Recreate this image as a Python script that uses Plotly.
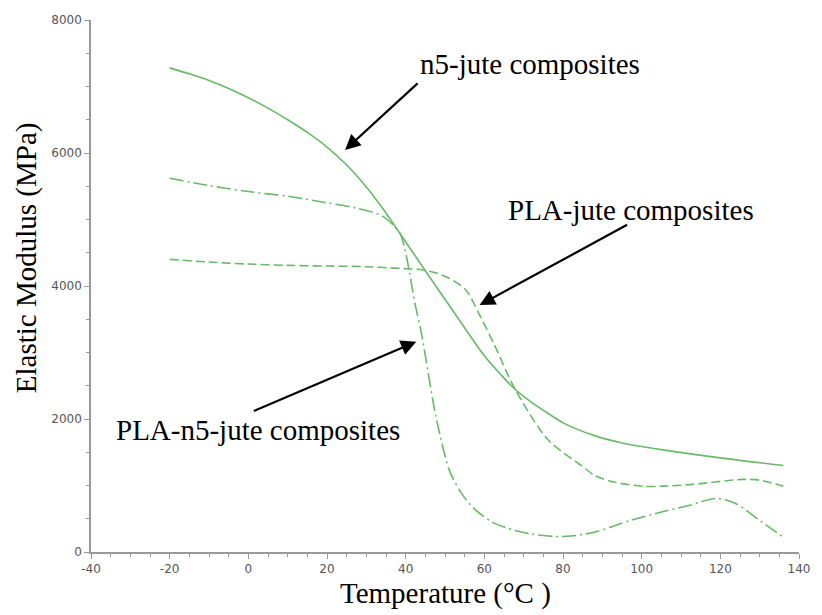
import plotly.graph_objects as go

# Elastic modulus vs temperature for three jute composites
temp_n5 = [-20, -15, -10, -5, 0, 5, 10, 15, 20, 25, 30, 34, 38.5, 45, 52.8, 60, 64, 67.4, 72, 75, 80.4, 88, 95, 105,
           121.5, 136]
mod_n5 = [7280, 7190, 7090, 6970, 6830, 6675, 6500, 6310, 6090, 5820, 5490, 5180, 4794, 4230, 3560, 2950, 2680, 2470,
          2250, 2130, 1931, 1750, 1640, 1540, 1404, 1300]

temp_pla_n5 = [-20, -10, 0, 10, 20, 27.6, 34.3, 38.5, 40, 41, 42.5, 44, 46.9, 48, 51.1, 54, 57, 62, 67.8, 72, 77.9,
               82, 88, 97.2, 105, 112, 119, 124, 130, 136]
mod_pla_n5 = [5620, 5510, 5420, 5350, 5250, 5170, 5044, 4794, 4500, 4191, 3700, 3290, 2282, 1950, 1228, 900, 675, 450,
              324, 270, 233, 240, 298, 475, 600, 700, 805, 726, 475, 223]

temp_pla = [-20, -10, 0, 10, 20, 30, 40, 44.4, 48, 51.1, 55.3, 58.6, 62.8, 67.8, 76.3, 84.6, 88, 93, 100.6, 105.5,
            113, 125.6, 130, 136]
mod_pla = [4400, 4360, 4330, 4310, 4300, 4290, 4260, 4241, 4190, 4116, 3940, 3588, 3085, 2450, 1680, 1303, 1152, 1052,
           987, 990, 1017, 1092, 1080, 990]

x_ticks = [-40, -20, 0, 20, 40, 60, 80, 100, 120, 140]
x_tick_text = ["-40", "-20", "0", "20", "40", "60", "80", "100", "120", "140"]
y_ticks = [0, 2000, 4000, 6000, 8000]
y_tick_text = ["0", "2000", "4000", "6000", "8000"]

GREEN = "#66bb66"
AXIS = "#999999"
SERIF = "Liberation Serif, Times New Roman, serif"

fig = go.Figure()
series = [
    (temp_n5, mod_n5, "solid", "n5-jute composites"),
    (temp_pla, mod_pla, "9px,4px", "PLA-jute composites"),
    (temp_pla_n5, mod_pla_n5, "14px,4px,2px,4px", "PLA-n5-jute composites"),
]
for xs, ys, dash, name in series:
    fig.add_trace(go.Scatter(
        x=xs, y=ys, mode="lines", name=name,
        line=dict(color=GREEN, width=1.6, dash=dash, shape="spline", smoothing=0.8),
    ))

tickfont = dict(family="DejaVu Sans, Arial, sans-serif", size=12, color="#555555")
fig.update_xaxes(
    range=[-40, 140], tickvals=x_ticks, ticktext=x_tick_text, ticks="outside", ticklen=5,
    tickcolor=AXIS, tickwidth=1.2, showline=True, linecolor=AXIS, linewidth=1.5,
    showgrid=False, zeroline=False, tickfont=tickfont,
    minor=dict(dtick=5, ticks="outside", ticklen=3, tickcolor=AXIS, showgrid=False),
)
fig.update_yaxes(
    range=[0, 8000], tickvals=y_ticks, ticktext=y_tick_text, ticks="outside", ticklen=5,
    tickcolor=AXIS, tickwidth=1.2, showline=True, linecolor=AXIS, linewidth=1.5,
    showgrid=False, zeroline=False, tickfont=tickfont,
    minor=dict(dtick=500, ticks="outside", ticklen=3, tickcolor=AXIS, showgrid=False),
)

labelfont = dict(family=SERIF, size=29, color="black")
annotations = [
    # axis titles
    dict(text="Temperature (°C )", xref="paper", yref="paper", x=0.501, y=-0.078,
         xanchor="center", yanchor="middle", showarrow=False, font=labelfont),
    dict(text="Elastic Modulus (MPa)", xref="paper", yref="paper", x=-0.0908, y=0.5536,
         xanchor="center", yanchor="middle", textangle=-90, showarrow=False, font=labelfont),
    # curve labels
    dict(text="n5-jute composites", x=43.1, y=7338, xanchor="left", yanchor="middle",
         showarrow=False, font=labelfont),
    dict(text="PLA-jute composites", x=65.4, y=5143, xanchor="left", yanchor="middle",
         showarrow=False, font=labelfont),
    dict(text="PLA-n5-jute composites", x=-34.2, y=1835, xanchor="left", yanchor="middle",
         showarrow=False, font=labelfont),
]
# pointer arrows (head in data coords, tail offset in pixels)
arrows = [(24.6, 6045, 74, -68), (58.8, 3714, 149, -81), (42.7, 3163, -164, 70)]
for hx, hy, ax, ay in arrows:
    annotations.append(dict(
        text="", x=hx, y=hy, ax=ax, ay=ay, showarrow=True, arrowhead=2, arrowsize=1.4,
        arrowwidth=2.2, arrowcolor="black", standoff=0,
    ))

fig.update_layout(
    width=822, height=615, margin=dict(l=91, r=15, t=20, b=63),
    plot_bgcolor="white", paper_bgcolor="white", showlegend=False,
    annotations=annotations,
)

fig.write_html("out.html")
